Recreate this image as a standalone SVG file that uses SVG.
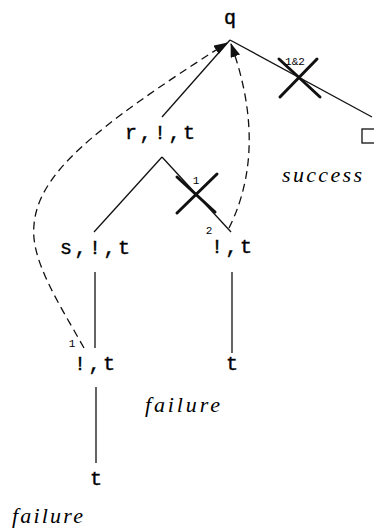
<svg xmlns="http://www.w3.org/2000/svg" width="374" height="531" viewBox="0 0 374 531">
<style>
.lbl{font-family:"Liberation Mono","DejaVu Sans Mono",monospace;font-size:20px;letter-spacing:2.5px;fill:#000;stroke:#000;stroke-width:0.4}
.it{font-family:"Liberation Serif","DejaVu Serif",serif;font-style:italic;font-size:22px;fill:#000}
.sm{font-family:"Liberation Mono","DejaVu Sans Mono",monospace;font-size:11px;fill:#000}
.edge{stroke:#111;stroke-width:1.3;fill:none}
.dash{stroke:#111;stroke-width:1.3;fill:none;stroke-dasharray:8 5}
.cut{stroke:#111;stroke-width:3;stroke-linecap:round;fill:none}
</style>
<defs>
<marker id="ah" markerUnits="userSpaceOnUse" markerWidth="14" markerHeight="10" refX="13" refY="5" orient="auto">
<path d="M0,0 L14,5 L0,10 Z" fill="#111"/>
</marker>
</defs>
<rect width="374" height="531" fill="#fff"/>
<g id="connectors">
<line class="edge" x1="230" y1="40" x2="162" y2="117"/>
<line class="edge" x1="230" y1="40" x2="372" y2="117"/>
<line class="edge" x1="162" y1="157" x2="94" y2="232"/>
<line class="edge" x1="162" y1="157" x2="231" y2="232"/>
<line class="edge" x1="95" y1="272" x2="95" y2="348"/>
<line class="edge" x1="96" y1="387" x2="96" y2="463"/>
<line class="edge" x1="232" y1="272" x2="232" y2="353"/>
<path class="dash" d="M84,348 C60,305 30,260 34,225 C38,175 90,130 227,43" marker-end="url(#ah)"/>
<path class="dash" d="M229,228 C248,190 262,130 231,44" marker-end="url(#ah)"/>
</g>
<g id="cut12">
<line class="cut" x1="279" y1="59" x2="320" y2="97"/>
<line class="cut" x1="317" y1="59" x2="280" y2="97"/>
<text class="sm" x="295" y="65" text-anchor="middle">1&amp;2</text>
</g>
<g id="cut1">
<line class="cut" x1="177" y1="177" x2="215" y2="212"/>
<line class="cut" x1="217" y1="174" x2="177" y2="213"/>
<text class="sm" x="196" y="184" text-anchor="middle">1</text>
</g>
<g id="node-q"><text class="lbl" x="224" y="24">q</text></g>
<g id="node-r"><text class="lbl" x="125" y="139">r,!,t</text></g>
<g id="node-success-box"><rect x="362" y="129" width="14" height="14" fill="none" stroke="#111" stroke-width="1.3"/>
<text class="it" x="282" y="182" textLength="80" lengthAdjust="spacing">success</text></g>
<g id="node-s"><text class="lbl" x="60" y="254">s,!,t</text></g>
<g id="node-bang-right"><text class="sm" x="209" y="234" text-anchor="middle">2</text>
<text class="lbl" x="211" y="253">!,t</text></g>
<g id="node-t-right"><text class="lbl" x="226" y="370">t</text>
<text class="it" x="145" y="412" textLength="75" lengthAdjust="spacing">failure</text></g>
<g id="node-bang-left"><text class="sm" x="72" y="347" text-anchor="middle">1</text>
<text class="lbl" x="74" y="370">!,t</text></g>
<g id="node-t-bottom"><text class="lbl" x="90" y="485">t</text>
<text class="it" x="12" y="523" textLength="71" lengthAdjust="spacing">failure</text></g>
</svg>
